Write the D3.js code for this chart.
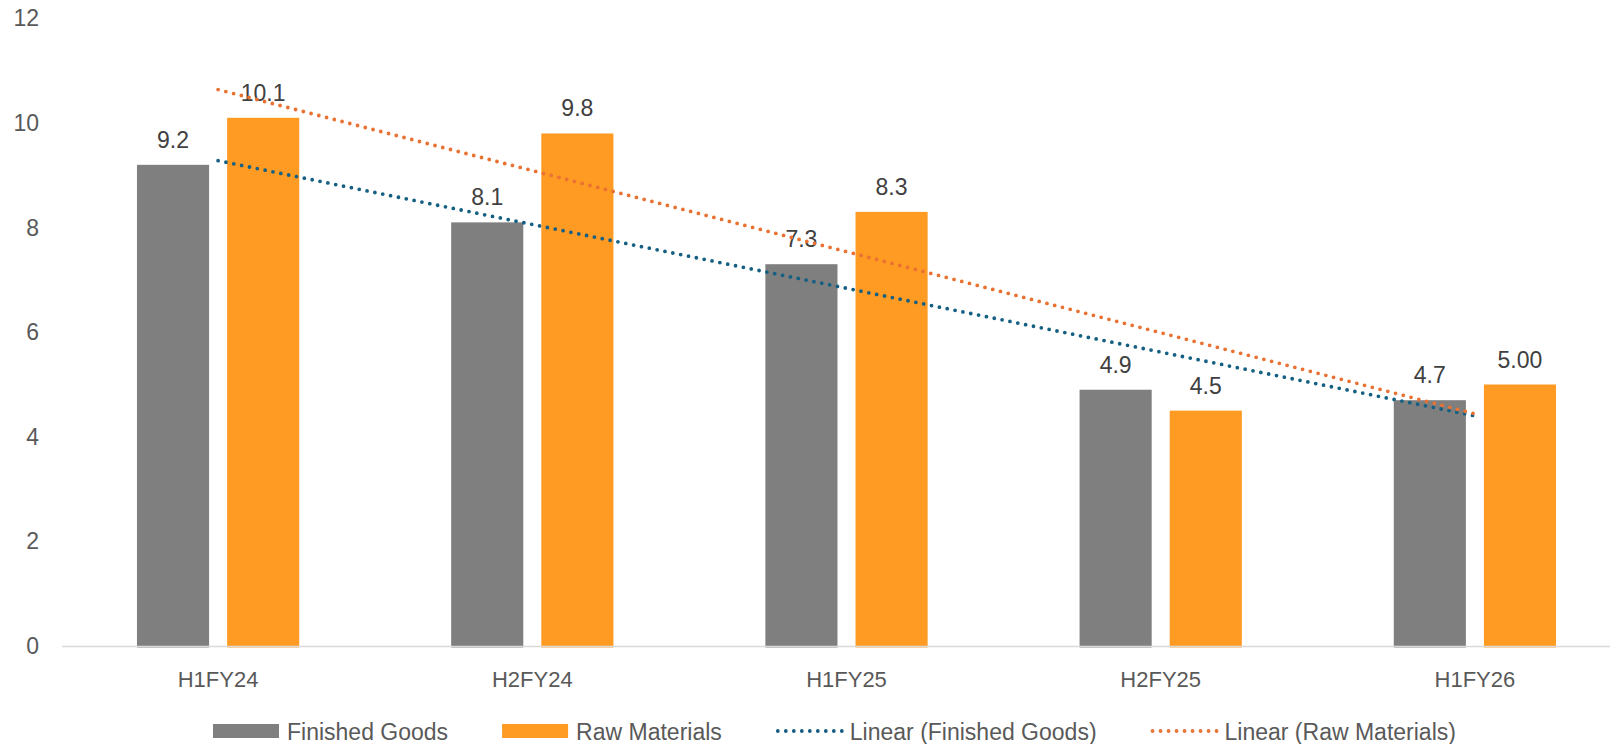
<!DOCTYPE html>
<meta charset="utf-8" />
<title>Finished goods vs raw materials</title>
<script src="https://d3js.org/d3.v7.min.js"></script>
<style>
    body {
        margin: 0;
        background: #fff;
    }
    text {
        font-family: 'Liberation Sans', Arial, sans-serif;
        font-size: 22px;
    }
    .tick-label {
        fill: #595959;
    }
    .y-label {
        font-size: 23px;
    }
    .label {
        fill: #404040;
        font-size: 23px;
    }
    .legend text {
        fill: #595959;
        font-size: 23px;
    }
</style>
<div id="chart"></div>
<script>
// data
var periods = ['H1FY24', 'H2FY24', 'H1FY25', 'H2FY25', 'H1FY26'];
var finishedGoods = [9.2, 8.1, 7.3, 4.9, 4.7];
var rawMaterials = [10.1, 9.8, 8.3, 4.5, 5.0];
var rawLabels = ['10.1', '9.8', '8.3', '4.5', '5.00'];
var yTicks = [0, 2, 4, 6, 8, 10, 12];
var seriesNames = ['Finished Goods', 'Raw Materials'];

var width = 1610,
    height = 744;

var colors = { 'Finished Goods': '#7f7f7f', 'Raw Materials': '#ff9a23' };
var trendColors = { 'Finished Goods': '#156082', 'Raw Materials': '#e97132' };

var svg = d3.select('#chart').append('svg')
    .attr('width', width)
    .attr('height', height);

var x = d3.scaleBand()
    .domain(periods)
    .range([61, 1632])
    .padding(0);

var x1 = d3.scaleBand()
    .domain(seriesNames)
    .range([x.bandwidth() * 0.2418, x.bandwidth() * 0.7582])
    .paddingInner(0.2);

var y = d3.scaleLinear()
    .domain([0, 12])
    .range([646, 18.4]);

// y axis labels (no gridlines apart from the baseline)
svg.append('g').selectAll('text')
    .data(yTicks)
    .enter().append('text')
    .attr('class', 'tick-label y-label')
    .attr('x', 39)
    .attr('y', function(d) { return y(d); })
    .attr('dy', '0.35em')
    .attr('text-anchor', 'end')
    .text(function(d) { return d; });

var rows = periods.map(function(p, i) {
    return { period: p, i: i, 'Finished Goods': finishedGoods[i], 'Raw Materials': rawMaterials[i] };
});

// bars
var groups = svg.append('g').selectAll('g')
    .data(rows)
    .enter().append('g')
    .attr('transform', function(d) { return 'translate(' + x(d.period) + ',0)'; });

groups.selectAll('rect')
    .data(function(d) { return seriesNames.map(function(s) { return { key: s, value: d[s] }; }); })
    .enter().append('rect')
    .attr('x', function(d) { return x1(d.key); })
    .attr('width', x1.bandwidth())
    .attr('y', function(d) { return y(d.value); })
    .attr('height', function(d) { return y(0) - y(d.value) + 1.5; })
    .style('fill', function(d) { return colors[d.key]; });

// baseline
svg.append('line')
    .attr('x1', 62)
    .attr('x2', width)
    .attr('y1', y(0) + 0.5)
    .attr('y2', y(0) + 0.5)
    .style('stroke', '#d9d9d9')
    .style('stroke-width', 1.5);

// data labels
groups.selectAll('.label')
    .data(function(d) {
        return [
            { key: 'Finished Goods', value: d['Finished Goods'], text: String(d['Finished Goods']) },
            { key: 'Raw Materials', value: d['Raw Materials'], text: rawLabels[d.i] }
        ];
    })
    .enter().append('text')
    .attr('class', 'label')
    .attr('x', function(d) { return x1(d.key) + x1.bandwidth() / 2; })
    .attr('y', function(d) { return y(d.value) - 17; })
    .attr('text-anchor', 'middle')
    .text(function(d) { return d.text; });

// x axis labels
svg.append('g').selectAll('text')
    .data(periods)
    .enter().append('text')
    .attr('class', 'tick-label')
    .attr('x', function(d) { return x(d) + x.bandwidth() / 2; })
    .attr('y', 687)
    .attr('text-anchor', 'middle')
    .text(function(d) { return d; });

// linear trendlines (least squares over the category index)
function fit(values) {
    var n = values.length;
    var mx = d3.mean(d3.range(n));
    var my = d3.mean(values);
    var num = 0, den = 0;
    values.forEach(function(v, i) {
        num += (i - mx) * (v - my);
        den += (i - mx) * (i - mx);
    });
    var slope = num / den;
    return function(i) { return my + slope * (i - mx); };
}

var cx = function(i) { return x(periods[i]) + x.bandwidth() / 2; };

[['Finished Goods', finishedGoods], ['Raw Materials', rawMaterials]].forEach(function(s) {
    var f = fit(s[1]);
    var last = periods.length - 1;
    svg.append('line')
        .attr('x1', cx(0))
        .attr('y1', y(f(0)))
        .attr('x2', cx(last))
        .attr('y2', y(f(last)))
        .style('stroke', trendColors[s[0]])
        .style('stroke-width', 3.8)
        .style('stroke-linecap', 'round')
        .style('stroke-dasharray', '0 8');
});

// legend
var legendItems = [
    { name: 'Finished Goods', type: 'bar', color: colors['Finished Goods'] },
    { name: 'Raw Materials', type: 'bar', color: colors['Raw Materials'] },
    { name: 'Linear (Finished Goods)', type: 'line', color: trendColors['Finished Goods'] },
    { name: 'Linear (Raw Materials)', type: 'line', color: trendColors['Raw Materials'] }
];

var legend = svg.append('g').attr('class', 'legend');
var lx = 213;
legendItems.forEach(function(d) {
    var g = legend.append('g').attr('transform', 'translate(' + lx + ',0)');
    if (d.type == 'bar') {
        g.append('rect')
            .attr('x', 0)
            .attr('y', 724)
            .attr('width', 66)
            .attr('height', 14)
            .style('fill', d.color);
    } else {
        g.append('line')
            .attr('x1', 2)
            .attr('x2', 70)
            .attr('y1', 731)
            .attr('y2', 731)
            .style('stroke', d.color)
            .style('stroke-width', 3.8)
            .style('stroke-linecap', 'round')
            .style('stroke-dasharray', '0 8');
    }
    var t = g.append('text')
        .attr('x', 74)
        .attr('y', 740)
        .text(d.name);
    lx += 74 + t.node().getComputedTextLength() + 54;
});
</script>
